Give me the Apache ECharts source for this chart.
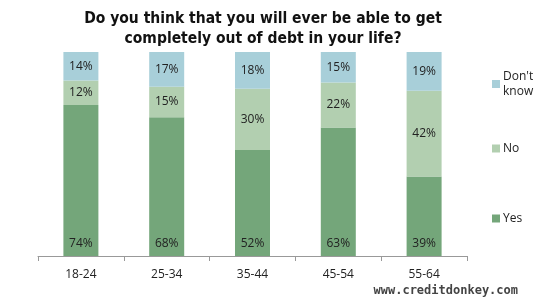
<!DOCTYPE html>
<html><head><meta charset="utf-8">
<script src="https://cdn.jsdelivr.net/npm/echarts@6/dist/echarts.min.js"></script>
<style>html,body{margin:0;padding:0;background:#fff}#c{width:550px;height:300px}</style>
</head><body><div id="c"></div>
<script>
var categories = ['18-24','25-34','35-44','45-54','55-64'];
var yes = [74, 68, 52, 63, 39];
var no = [12, 15, 30, 22, 42];
var dontKnow = [14, 17, 18, 15, 19];
var seriesNames = ['Yes', 'No', "Don't know"];
var colors = ['#74a67a', '#b2cfb0', '#a8cfd9'];

var chart = echarts.init(document.getElementById('c'));
var lbl = {show: true, formatter: '{c}%', color: '#222', fontSize: 12, fontFamily: 'Open Sans, sans-serif'};
function legend(name, top) {
  return {
    data: [name], left: 487, top: top, orient: 'vertical',
    itemWidth: 8, itemHeight: 8, itemGap: 4, icon: 'rect',
    textStyle: {color: '#222', fontSize: 12, fontFamily: 'Open Sans, sans-serif', padding: [0,0,0,-2], lineHeight: 15},
    formatter: function (n) { return n === "Don't know" ? "Don't\nknow" : n; }
  };
}
chart.setOption({
  animation: false,
  title: {
    text: 'Do you think that you will ever be able to get\ncompletely out of debt in your life?',
    left: 258, top: 4, textAlign: 'center',
    textStyle: {fontSize: 15.5, fontWeight: 'bold', color: '#111', fontFamily: 'DejaVu Sans Condensed, DejaVu Sans, sans-serif', lineHeight: 20}
  },
  legend: [legend("Don't know", 64), legend('No', 136), legend('Yes', 206)],
  grid: {left: 38, right: 83, top: 52, bottom: 44},
  xAxis: {
    type: 'category', data: categories,
    axisLine: {lineStyle: {color: '#999'}},
    axisTick: {show: true, length: 5, lineStyle: {color: '#999'}},
    axisLabel: {color: '#222', fontSize: 12, margin: 13, fontFamily: 'Open Sans, sans-serif'}
  },
  yAxis: {type: 'value', min: 0, max: 100, show: false, splitLine: {show: false}},
  graphic: [{
    type: 'text', right: 32, bottom: 3,
    style: {text: 'www.creditdonkey.com', fontSize: 12, fontWeight: 'bold', fill: '#444', fontFamily: 'DejaVu Sans Mono, monospace'}
  }],
  series: [
    {name: seriesNames[0], type: 'bar', stack: 's', data: yes, barWidth: 35, itemStyle: {color: colors[0]},
     label: Object.assign({}, lbl, {position: 'insideBottom', distance: 6})},
    {name: seriesNames[1], type: 'bar', stack: 's', data: no, itemStyle: {color: colors[1]},
     label: Object.assign({}, lbl, {position: 'inside'})},
    {name: seriesNames[2], type: 'bar', stack: 's', data: dontKnow, itemStyle: {color: colors[2]},
     label: Object.assign({}, lbl, {position: 'inside'})}
  ]
});
</script></body></html>
